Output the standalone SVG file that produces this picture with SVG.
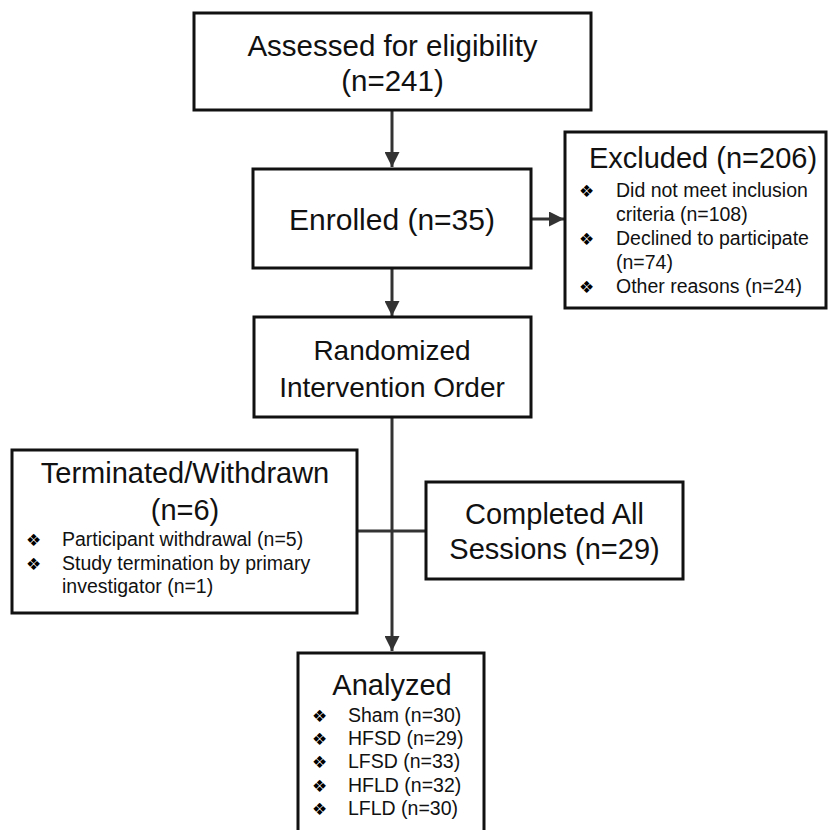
<svg xmlns="http://www.w3.org/2000/svg" width="830" height="830" viewBox="0 0 830 830">
<defs>
<style>
.box{fill:#fff;stroke:#111;stroke-width:3}
.t{font-family:"Liberation Sans",Arial,sans-serif;fill:#111;text-anchor:middle}
.i{font-family:"Liberation Sans",Arial,sans-serif;fill:#111;font-size:19.5px}
.b{font-family:"DejaVu Sans",sans-serif;fill:#000;font-size:17px}
.c{fill:none;stroke:#333;stroke-width:3}
</style>
<marker id="ah" markerWidth="5" markerHeight="5" refX="5" refY="2.5" orient="auto" markerUnits="strokeWidth">
<path d="M0,0 L5,2.5 L0,5 Z" fill="#333"/>
</marker>
</defs>
<rect width="830" height="830" fill="#fff"/>
<g id="connectors">
<line class="c" x1="392" y1="110" x2="392" y2="167" marker-end="url(#ah)"/>
<line class="c" x1="531" y1="219" x2="564" y2="219" marker-end="url(#ah)"/>
<line class="c" x1="392" y1="268" x2="392" y2="316" marker-end="url(#ah)"/>
<line class="c" x1="392" y1="417" x2="392" y2="651" marker-end="url(#ah)"/>
<line class="c" x1="357" y1="531" x2="426" y2="531"/>
</g>
<g id="assessed">
<rect class="box" x="194" y="13" width="397" height="97"/>
<text class="t" x="392.5" y="56" font-size="29.5">Assessed for eligibility</text>
<text class="t" x="392.5" y="91" font-size="29.5">(n=241)</text>
</g>
<g id="enrolled">
<rect class="box" x="253" y="169" width="278" height="99"/>
<text class="t" x="392" y="230" font-size="30">Enrolled (n=35)</text>
</g>
<g id="excluded">
<rect class="box" x="565" y="132" width="261" height="176"/>
<text class="t" x="703" y="168" font-size="29">Excluded (n=206)</text>
<text class="b" x="579" y="197">❖</text>
<text class="i" x="616" y="197">Did not meet inclusion</text>
<text class="i" x="616" y="221">criteria (n=108)</text>
<text class="b" x="579" y="245">❖</text>
<text class="i" x="616" y="245">Declined to participate</text>
<text class="i" x="616" y="269">(n=74)</text>
<text class="b" x="579" y="293">❖</text>
<text class="i" x="616" y="293">Other reasons (n=24)</text>
</g>
<g id="randomized">
<rect class="box" x="254" y="317" width="277" height="100"/>
<text class="t" x="392" y="360" font-size="28">Randomized</text>
<text class="t" x="392" y="397" font-size="28">Intervention Order</text>
</g>
<g id="terminated">
<rect class="box" x="12" y="450" width="345" height="163"/>
<text class="t" x="185" y="483" font-size="29">Terminated/Withdrawn</text>
<text class="t" x="185" y="520" font-size="29">(n=6)</text>
<text class="b" x="26" y="546">❖</text>
<text class="i" x="62" y="546">Participant withdrawal (n=5)</text>
<text class="b" x="26" y="570">❖</text>
<text class="i" x="62" y="570">Study termination by primary</text>
<text class="i" x="62" y="593">investigator (n=1)</text>
</g>
<g id="completed">
<rect class="box" x="426" y="482" width="257" height="97"/>
<text class="t" x="554.5" y="524" font-size="29">Completed All</text>
<text class="t" x="554.5" y="559" font-size="29">Sessions (n=29)</text>
</g>
<g id="analyzed">
<rect class="box" x="298" y="653" width="186" height="190"/>
<text class="t" x="392" y="695" font-size="29">Analyzed</text>
<text class="b" x="312" y="722">❖</text>
<text class="i" x="348" y="722">Sham (n=30)</text>
<text class="b" x="312" y="745">❖</text>
<text class="i" x="348" y="745">HFSD (n=29)</text>
<text class="b" x="312" y="768">❖</text>
<text class="i" x="348" y="768">LFSD (n=33)</text>
<text class="b" x="312" y="792">❖</text>
<text class="i" x="348" y="792">HFLD (n=32)</text>
<text class="b" x="312" y="815">❖</text>
<text class="i" x="348" y="815">LFLD (n=30)</text>
</g>
</svg>
